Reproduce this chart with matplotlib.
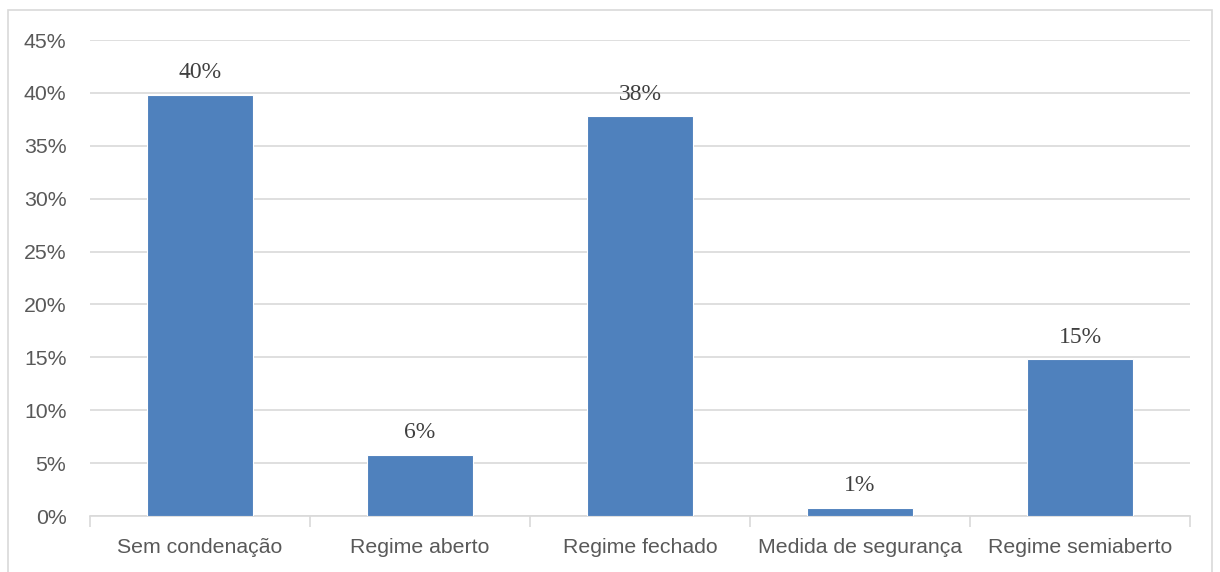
import numpy as np
import matplotlib.pyplot as plt
from matplotlib.patches import Rectangle
from matplotlib.ticker import FuncFormatter

categories = ["Sem condenação", "Regime aberto", "Regime fechado",
              "Medida de segurança", "Regime semiaberto"]
values = [39.8, 5.8, 37.8, 0.8, 14.8]
labels = ["40%", "6%", "38%", "1%", "15%"]

fig = plt.figure(figsize=(12.2, 5.72), dpi=100)
ax = fig.add_axes([90 / 1220, 1 - 516 / 572, 1100 / 1220, 476 / 572])

# figure border
fig.patches.append(Rectangle((8 / 1220, -0.1), 1204 / 1220, 1.1 - 10 / 572,
                             transform=fig.transFigure, fill=False,
                             edgecolor="#D9D9D9", linewidth=1.2))

x = np.arange(len(categories))
bars = ax.bar(x, values, width=0.48, color="#4F81BD", edgecolor="white",
              linewidth=0.8, zorder=3)
for b, lab in zip(bars, labels):
    ax.text(b.get_x() + b.get_width() / 2, b.get_height() + 1.1, lab,
            ha="center", va="bottom", fontsize=17, color="#404040",
            family="Liberation Serif")

ax.set_xlim(-0.5, 4.5)
ax.set_ylim(0, 45)
ax.set_yticks(np.arange(0, 46, 5))
ax.yaxis.set_major_formatter(FuncFormatter(lambda v, p: f"{v:.0f}%"))
ax.grid(axis="y", color="#D9D9D9", linewidth=1.2, zorder=0)

ax.set_xticks(x)
ax.set_xticklabels(categories)
ax.set_xticks(np.arange(-0.5, 5, 1), minor=True)
ax.tick_params(axis="x", which="major", length=0, pad=16, labelsize=15.3,
               labelcolor="#595959")
ax.tick_params(axis="x", which="minor", length=8, color="#D9D9D9", width=1.2)
ax.tick_params(axis="y", length=0, pad=17, labelsize=15.3, labelcolor="#595959")
for lab in ax.get_xticklabels() + ax.get_yticklabels():
    lab.set_family("Liberation Sans")

for s in ["top", "right", "left"]:
    ax.spines[s].set_visible(False)
ax.spines["bottom"].set_color("#D9D9D9")
ax.spines["bottom"].set_linewidth(1.2)

fig.savefig("out.png", dpi=100)
